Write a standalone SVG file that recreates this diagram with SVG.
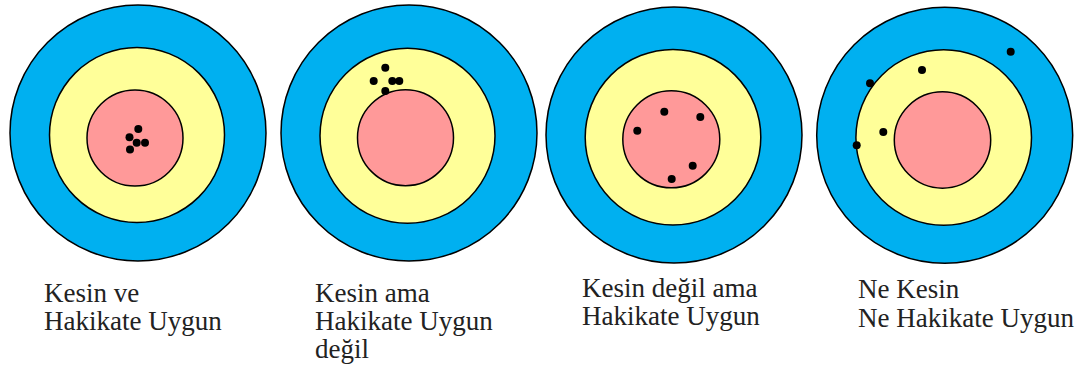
<svg xmlns="http://www.w3.org/2000/svg" width="1085" height="370" viewBox="0 0 1085 370">
<style>
.outer{fill:#00B0F0;stroke:#000;stroke-width:1.5}
.mid{fill:#FFFF99;stroke:#000;stroke-width:1.5}
.inner{fill:#FF9999;stroke:#000;stroke-width:1.5}
.dot{fill:#000}
.lbl{font-family:"Liberation Serif","Times New Roman",serif;font-size:27px;fill:#222}
</style>
<rect width="1085" height="370" fill="#fff"/>
<g id="target1">
<circle class="outer" cx="138" cy="133" r="128"/>
<circle class="mid" cx="137" cy="135" r="87.5"/>
<circle class="inner" cx="135" cy="138" r="48"/>
<circle class="dot" cx="138.3" cy="129" r="4"/>
<circle class="dot" cx="129.5" cy="137.3" r="4"/>
<circle class="dot" cx="136.7" cy="142.7" r="4"/>
<circle class="dot" cx="145" cy="142.7" r="4"/>
<circle class="dot" cx="130" cy="149.5" r="4"/>
<text class="lbl" x="44" y="301.5">Kesin ve</text>
<text class="lbl" x="44" y="330">Hakikate Uygun</text>
</g>
<g id="target2">
<circle class="outer" cx="409" cy="133" r="128"/>
<circle class="mid" cx="407.5" cy="135.8" r="87.5"/>
<circle class="inner" cx="405.5" cy="137.7" r="48"/>
<circle class="dot" cx="385.3" cy="67.7" r="4"/>
<circle class="dot" cx="373.7" cy="81" r="4"/>
<circle class="dot" cx="392.3" cy="81" r="4"/>
<circle class="dot" cx="399.3" cy="81" r="4"/>
<circle class="dot" cx="385.3" cy="91" r="4"/>
<text class="lbl" x="315" y="301.5">Kesin ama</text>
<text class="lbl" x="315" y="330">Hakikate Uygun</text>
<text class="lbl" x="315" y="358">değil</text>
</g>
<g id="target3">
<circle class="outer" cx="674" cy="135" r="128"/>
<circle class="mid" cx="673" cy="137.2" r="87.8"/>
<circle class="inner" cx="671.3" cy="139.3" r="48.5"/>
<circle class="dot" cx="664.3" cy="111.7" r="4"/>
<circle class="dot" cx="700.3" cy="117" r="4"/>
<circle class="dot" cx="637.3" cy="130.7" r="4"/>
<circle class="dot" cx="692.7" cy="165.7" r="4"/>
<circle class="dot" cx="671.7" cy="179" r="4"/>
<text class="lbl" x="582" y="296.5">Kesin değil ama</text>
<text class="lbl" x="582" y="325">Hakikate Uygun</text>
</g>
<g id="target4">
<circle class="outer" cx="944.7" cy="135.3" r="128"/>
<circle class="mid" cx="943.7" cy="137.5" r="87.8"/>
<circle class="inner" cx="942.5" cy="140" r="48.2"/>
<circle class="dot" cx="1010.7" cy="51.7" r="4"/>
<circle class="dot" cx="922" cy="70" r="4"/>
<circle class="dot" cx="870" cy="83.3" r="4"/>
<circle class="dot" cx="883.3" cy="132" r="4"/>
<circle class="dot" cx="856.7" cy="145.3" r="4"/>
<text class="lbl" x="858" y="298">Ne Kesin</text>
<text class="lbl" x="858" y="326.5">Ne Hakikate Uygun</text>
</g>
<g id="connectors"/>
</svg>
